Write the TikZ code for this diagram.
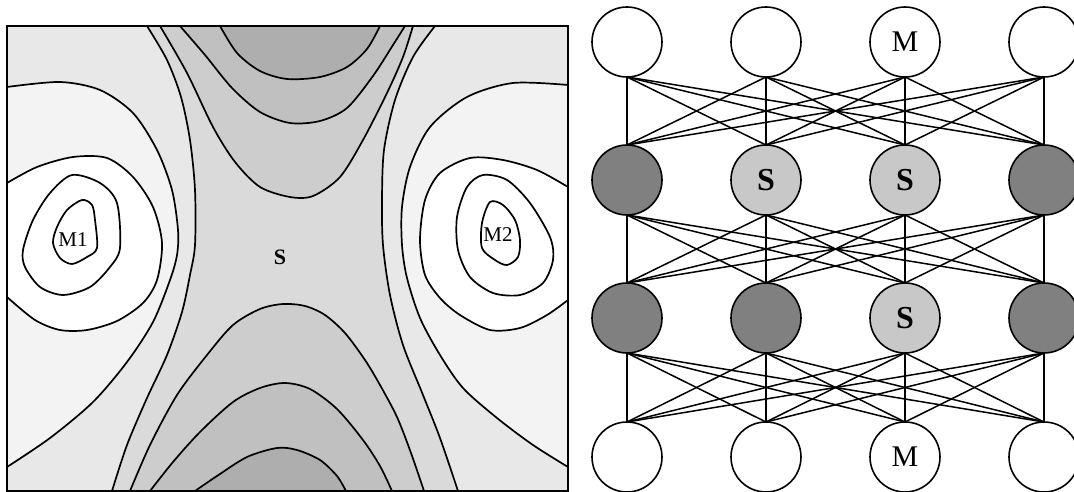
\documentclass[tikz,border=0pt]{standalone}
\usepackage{fontspec}
\setmainfont{Liberation Serif}
\usetikzlibrary{positioning}
\definecolor{outerband}{RGB}{232,232,232}
\definecolor{wellband}{RGB}{243,243,243}
\definecolor{saddleband}{RGB}{218,218,218}
\definecolor{midband}{RGB}{205,205,205}
\definecolor{highband}{RGB}{192,192,192}
\definecolor{peakband}{RGB}{174,174,174}
\definecolor{darknode}{RGB}{128,128,128}
\definecolor{lightnode}{RGB}{200,200,200}

\begin{document}
\begin{tikzpicture}[x=1pt, y=-1pt,
    contour/.style={draw=black, line width=1.7pt},
    unit/.style={circle, draw=black, line width=1.6pt, minimum size=70pt, inner sep=0pt, outer sep=0pt, font=\fontsize{30}{32}\selectfont},
    visunit/.style={unit, fill=white},
    hidunit/.style={unit, fill=darknode},
    sadunit/.style={unit, fill=lightnode, font=\fontsize{32}{34}\selectfont\bfseries},
    link/.style={draw=black, line width=1.5pt},
    ptlabel/.style={inner sep=0pt, font=\fontsize{21}{23}\selectfont}
  ]
  \useasboundingbox (0,0) rectangle (1074,492);

  % energy surface
  \begin{scope}
    \clip (7,26) rectangle (568,491);
    \fill[outerband] (7,26) rectangle (568,491);
    % left well
    \filldraw[contour, fill=wellband] plot[smooth] coordinates {(7,87) (60,82) (100,90) (133,113) (157,150) (172,190) (178,230) (177,255) (170,280) (153,322) (127,362) (93,402) (50,438) (7,467)} -- cycle;
    \filldraw[contour, fill=white] plot[smooth] coordinates {(7,183) (37,167) (73,157) (107,158) (133,177) (153,207) (162,243) (157,280) (143,303) (117,321) (87,330) (60,330) (35,320) (7,297)} -- cycle;
    \draw[contour] plot[smooth cycle] coordinates {(72,175) (100,183) (117,203) (120,248) (110,267) (90,287) (63,295) (40,287) (25,267) (23,250) (33,220) (50,193)};
    \draw[contour] plot[smooth cycle] coordinates {(82,200) (92,205) (95,220) (97,248) (87,257) (72,264) (60,258) (53,243) (57,227) (67,210)};
    % right well
    \filldraw[contour, fill=wellband] plot[smooth] coordinates {(568,85) (513,83) (467,97) (430,127) (410,167) (402,207) (402,245) (407,278) (420,318) (440,355) (463,388) (497,418) (533,445) (568,467)} -- cycle;
    \filldraw[contour, fill=white] plot[smooth] coordinates {(568,187) (537,170) (503,160) (470,158) (440,173) (425,200) (420,240) (425,275) (440,298) (460,315) (490,330) (520,328) (547,315) (568,300)} -- cycle;
    \draw[contour] plot[smooth cycle] coordinates {(483,175) (507,180) (530,203) (550,237) (553,260) (543,283) (520,295) (493,293) (470,277) (458,250) (457,217) (467,187)};
    \draw[contour] plot[smooth cycle] coordinates {(490,202) (503,205) (515,220) (520,240) (518,257) (507,265) (495,260) (482,248) (482,223)};
    % saddle channel
    \filldraw[contour, fill=saddleband] plot[smooth] coordinates {(147,26) (167,60) (181,97) (190,140) (195,190) (195,245) (190,275) (182,312) (167,355) (147,398) (127,445) (112,491)}
      -- plot[smooth] coordinates {(458,491) (440,438) (423,395) (403,345) (390,295) (383,245) (382,200) (384,150) (395,100) (413,57) (435,26)} -- cycle;
    % top hill
    \filldraw[contour, fill=midband] plot[smooth] coordinates {(160,26) (187,73) (213,127) (235,162) (260,187) (290,197) (313,196) (340,177) (363,140) (387,93) (403,57) (413,26)} -- cycle;
    \filldraw[contour, fill=highband] plot[smooth] coordinates {(180,26) (205,55) (232,88) (260,112) (290,123) (320,121) (347,108) (373,76) (393,45) (405,26)} -- cycle;
    \filldraw[contour, fill=peakband] plot[smooth] coordinates {(220,26) (237,53) (260,71) (287,79) (320,77) (347,67) (367,49) (380,26)} -- cycle;
    % bottom hill
    \filldraw[contour, fill=midband] plot[smooth] coordinates {(130,491) (150,445) (177,395) (207,355) (233,325) (260,309) (283,304) (305,306) (325,315) (345,333) (365,360) (380,385) (397,417) (411,453) (424,491)} -- cycle;
    \filldraw[contour, fill=highband] plot[smooth] coordinates {(150,491) (173,462) (200,432) (233,402) (260,388) (285,383) (310,389) (337,409) (363,440) (380,466) (392,491)} -- cycle;
    \filldraw[contour, fill=peakband] plot[smooth] coordinates {(195,491) (217,476) (247,457) (277,448) (297,450) (320,460) (337,476) (346,491)} -- cycle;
  \end{scope}
  \draw[line width=1.5pt] (7,26) rectangle (568,491);

  \node (m1) [ptlabel] at (73,240) {M1};
  \node (m2) [ptlabel] at (498,235) {M2};
  \node (s) [ptlabel, font=\fontsize{22}{24}\selectfont\bfseries] at (280,257) {S};

  % network
  \node (a1) [visunit] at (627,42) {};
  \node (a2) [visunit, right=69pt of a1] {};
  \node (a3) [visunit, right=69pt of a2] {M};
  \node (a4) [visunit, right=69pt of a3] {};
  \node (b1) [hidunit, below=68pt of a1] {};
  \node (b2) [sadunit, right=69pt of b1] {S};
  \node (b3) [sadunit, right=69pt of b2] {S};
  \node (b4) [hidunit, right=69pt of b3] {};
  \node (c1) [hidunit, below=68pt of b1] {};
  \node (c2) [hidunit, right=69pt of c1] {};
  \node (c3) [sadunit, right=69pt of c2] {S};
  \node (c4) [hidunit, right=69pt of c3] {};
  \node (d1) [visunit, below=69pt of c1] {};
  \node (d2) [visunit, right=69pt of d1] {};
  \node (d3) [visunit, right=69pt of d2] {M};
  \node (d4) [visunit, right=69pt of d3] {};

  \foreach \u/\v in {a/b, b/c, c/d}
    \foreach \i in {1,...,4}
      \foreach \j in {1,...,4}
        \draw[link] (\u\i.south) -- (\v\j.north);
\end{tikzpicture}
\end{document}
